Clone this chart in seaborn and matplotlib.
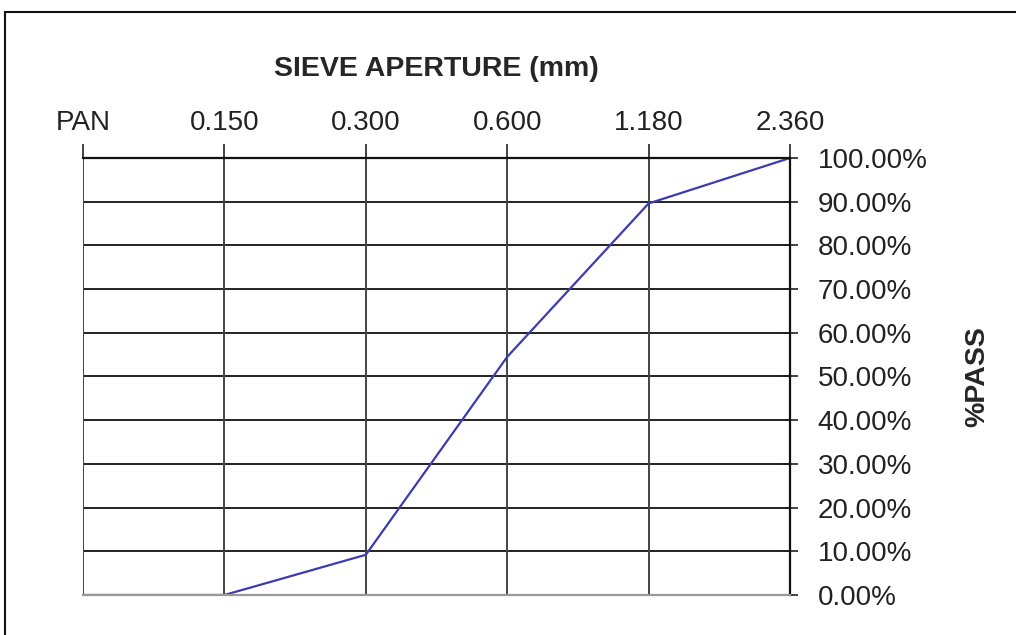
import pandas as pd
import matplotlib.pyplot as plt
import matplotlib.patches as mpatches
from matplotlib.ticker import PercentFormatter
import seaborn as sns

sns.set_theme(style="white")
plt.rcParams["font.family"] = ["Liberation Sans", "DejaVu Sans"]

# sieve data
sieves = ["PAN", "0.150", "0.300", "0.600", "1.180", "2.360"]
pct_pass = [0.0, 0.0, 9.2, 54.5, 89.6, 100.0]

df = pd.DataFrame({"sieve": sieves, "pass": pct_pass})

fig = plt.figure(figsize=(10.16, 6.35), dpi=100)
ax = fig.add_axes([0.0817, 0.063, 0.6959, 0.6882])

sns.lineplot(data=df, x="sieve", y="pass", color="#3c3cb0", linewidth=1.6, ax=ax)

ax.set_xlim(0, len(sieves) - 1)
ax.set_ylim(0, 100)
ax.set_yticks(range(0, 101, 10))
ax.yaxis.set_major_formatter(PercentFormatter(100, decimals=2))

# grid
for y in range(10, 101, 10):
    ax.axhline(y, color="#222222", linewidth=1.4, zorder=0)
for i in range(len(sieves)):
    ax.axvline(i, color="#444444", linewidth=1.4, zorder=0)

# axes on top / right
ax.xaxis.set_ticks_position("top")
ax.xaxis.set_label_position("top")
ax.yaxis.set_ticks_position("right")
ax.yaxis.set_label_position("right")
ax.tick_params(axis="x", direction="out", length=10, width=1.2, color="#222222",
               pad=6, labelsize=20, labelcolor="#222222")
ax.tick_params(axis="y", direction="inout", length=12, width=1.2, color="#222222",
               pad=14, labelsize=20, labelcolor="#222222")
for lbl in ax.get_yticklabels():
    lbl.set_horizontalalignment("left")

ax.set_xlabel("SIEVE APERTURE (mm)", fontsize=20.5, fontweight="bold", labelpad=24)
ax.set_ylabel("%PASS", fontsize=20.5, fontweight="bold", labelpad=26)

for side in ["top", "right"]:
    ax.spines[side].set_color("#111111")
    ax.spines[side].set_linewidth(1.6)
ax.spines["left"].set_visible(False)
ax.spines["bottom"].set_color("#999999")
ax.spines["bottom"].set_linewidth(1.6)

# outer chart border
fig.patches.append(mpatches.Rectangle((0.005, -0.05), 1.2, 1.031, transform=fig.transFigure,
                                      fill=False, edgecolor="#111111", linewidth=1.5))

fig.savefig("out.png", dpi=100)
